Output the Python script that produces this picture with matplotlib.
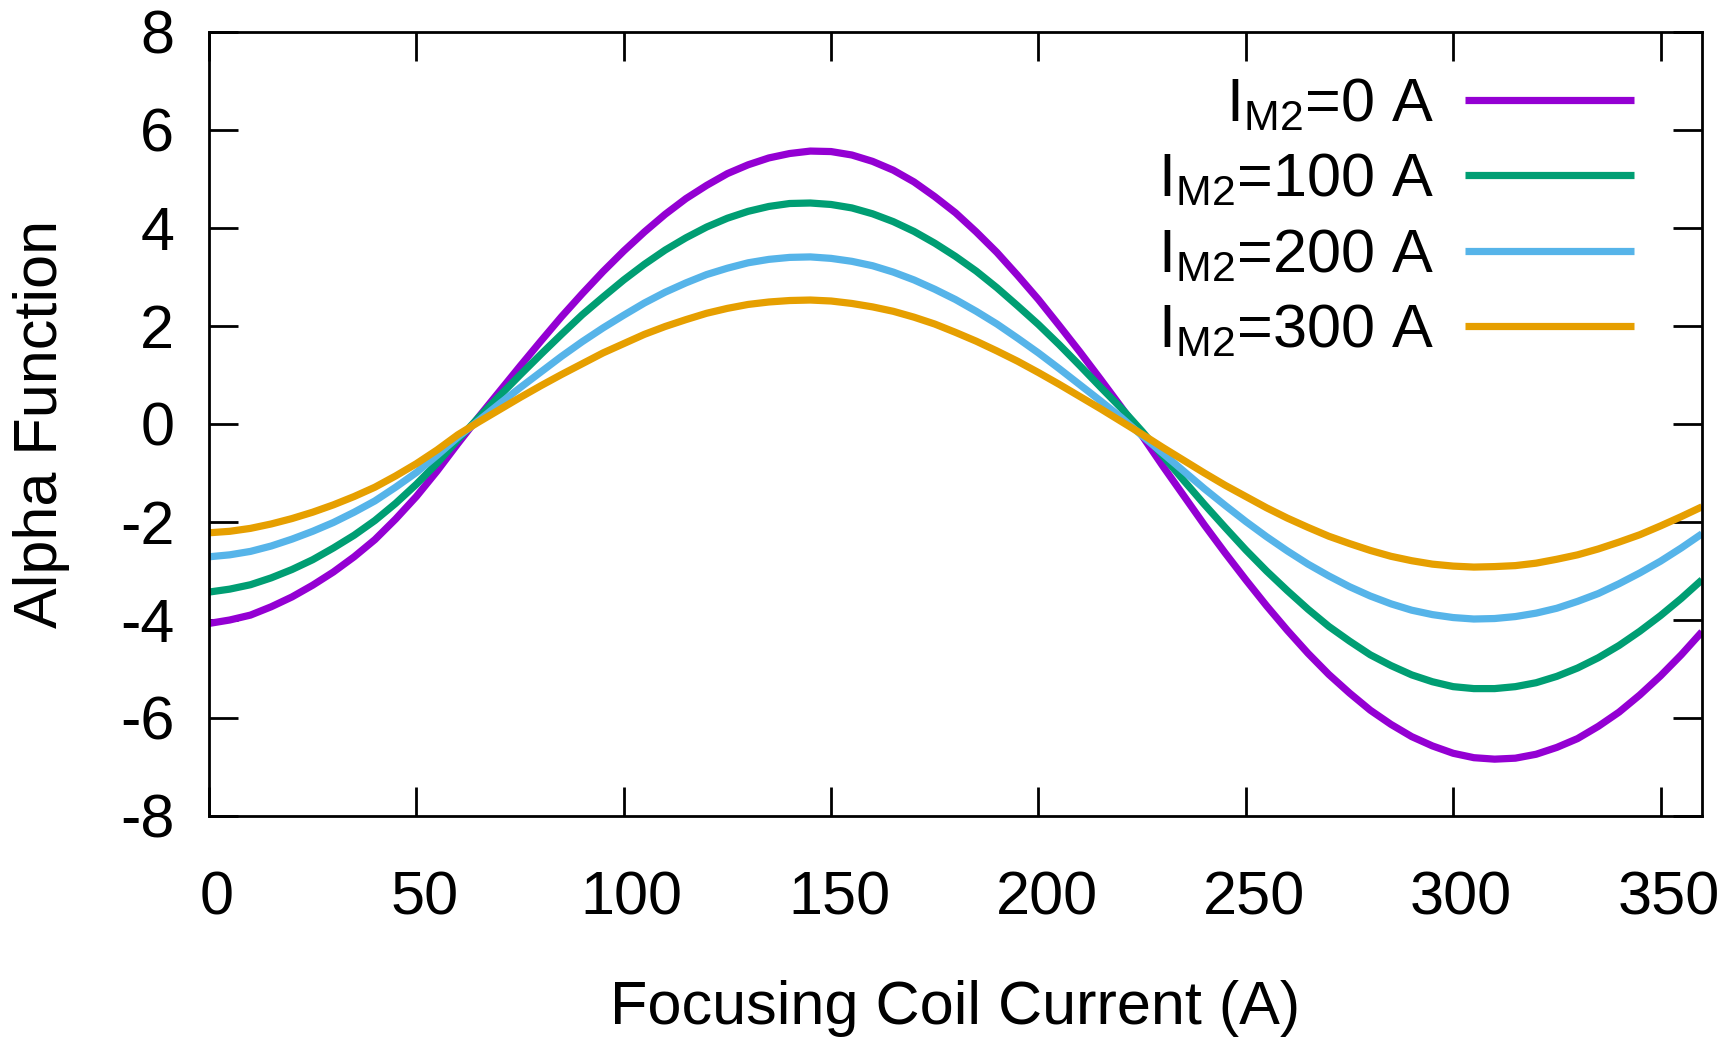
import matplotlib
matplotlib.use("Agg")
import matplotlib.pyplot as plt
from matplotlib.transforms import ScaledTranslation

plt.rcParams["font.family"] = ["Liberation Sans", "DejaVu Sans"]
plt.rcParams["mathtext.fontset"] = "custom"
plt.rcParams["mathtext.rm"] = "Liberation Sans"
plt.rcParams["mathtext.it"] = "Liberation Sans"
plt.rcParams["axes.unicode_minus"] = False

# Focusing coil current (A), 5 A steps
current = list(range(0, 365, 5))

# Alpha function for each second-magnet current
alpha_0 = [-4.07, -4.00, -3.90, -3.73, -3.53, -3.29, -3.02, -2.71, -2.36, -1.94,
           -1.48, -0.96, -0.40, 0.14, 0.66, 1.18, 1.69, 2.19, 2.66, 3.11,
           3.53, 3.92, 4.28, 4.60, 4.87, 5.11, 5.29, 5.43, 5.52, 5.57,
           5.56, 5.49, 5.36, 5.18, 4.94, 4.64, 4.31, 3.92, 3.50, 3.03,
           2.54, 2.01, 1.47, 0.91, 0.34, -0.24, -0.86, -1.46, -2.06, -2.63,
           -3.18, -3.71, -4.21, -4.68, -5.11, -5.49, -5.84, -6.13, -6.38, -6.57,
           -6.72, -6.81, -6.84, -6.82, -6.74, -6.60, -6.42, -6.17, -5.88, -5.53,
           -5.14, -4.71, -4.24]
alpha_100 = [-3.43, -3.37, -3.28, -3.14, -2.97, -2.77, -2.53, -2.27, -1.97, -1.62,
             -1.23, -0.80, -0.32, 0.13, 0.57, 1.00, 1.42, 1.83, 2.23, 2.59,
             2.94, 3.26, 3.55, 3.80, 4.02, 4.20, 4.34, 4.44, 4.50, 4.51,
             4.48, 4.41, 4.29, 4.13, 3.93, 3.69, 3.42, 3.12, 2.78, 2.41,
             2.03, 1.62, 1.19, 0.75, 0.32, -0.15, -0.65, -1.15, -1.64, -2.11,
             -2.57, -3.00, -3.40, -3.78, -4.13, -4.43, -4.71, -4.93, -5.12, -5.26,
             -5.36, -5.40, -5.40, -5.36, -5.28, -5.15, -4.98, -4.77, -4.52, -4.23,
             -3.91, -3.56, -3.18]
alpha_200 = [-2.71, -2.67, -2.60, -2.49, -2.35, -2.19, -2.01, -1.80, -1.57, -1.29,
             -0.99, -0.64, -0.27, 0.07, 0.41, 0.74, 1.06, 1.38, 1.68, 1.96,
             2.22, 2.47, 2.69, 2.88, 3.05, 3.18, 3.29, 3.36, 3.40, 3.41,
             3.38, 3.32, 3.23, 3.10, 2.94, 2.75, 2.54, 2.30, 2.04, 1.75,
             1.45, 1.13, 0.80, 0.47, 0.13, -0.24, -0.60, -0.96, -1.32, -1.66,
             -1.99, -2.30, -2.59, -2.86, -3.10, -3.32, -3.51, -3.67, -3.80, -3.89,
             -3.95, -3.98, -3.97, -3.93, -3.86, -3.76, -3.62, -3.46, -3.26, -3.04,
             -2.80, -2.53, -2.24]
alpha_300 = [-2.22, -2.19, -2.13, -2.04, -1.93, -1.80, -1.65, -1.48, -1.29, -1.06,
             -0.81, -0.53, -0.22, 0.04, 0.29, 0.54, 0.78, 1.01, 1.23, 1.45,
             1.64, 1.83, 1.99, 2.13, 2.26, 2.36, 2.44, 2.49, 2.52, 2.53,
             2.51, 2.46, 2.39, 2.30, 2.18, 2.04, 1.87, 1.69, 1.49, 1.28,
             1.05, 0.81, 0.56, 0.31, 0.05, -0.21, -0.48, -0.74, -1.00, -1.25,
             -1.48, -1.71, -1.92, -2.11, -2.29, -2.44, -2.58, -2.70, -2.79, -2.86,
             -2.90, -2.92, -2.91, -2.89, -2.84, -2.76, -2.67, -2.55, -2.41, -2.26,
             -2.08, -1.89, -1.69]

series = [alpha_0, alpha_100, alpha_200, alpha_300]
labels = [r"I$_{\mathregular{M2}}$=0 A", r"I$_{\mathregular{M2}}$=100 A",
          r"I$_{\mathregular{M2}}$=200 A", r"I$_{\mathregular{M2}}$=300 A"]
colors = ["#9400D3", "#009E73", "#56B4E9", "#E69F00"]

x_ticks = [0, 50, 100, 150, 200, 250, 300, 350]
y_ticks = [-8, -6, -4, -2, 0, 2, 4, 6, 8]

W, H = 1723, 1041
fig = plt.figure(figsize=(W / 100, H / 100), dpi=100)
ax = fig.add_axes([209 / W, 1 - 816 / H, 1493 / W, 784 / H])

for ys, lab, col in zip(series, labels, colors):
    ax.plot(current, ys, color=col, lw=5.2, label=lab,
            solid_capstyle="butt", solid_joinstyle="round")

ax.set_xlim(0, 360)
ax.set_ylim(-8, 8)
ax.set_xticks(x_ticks)
ax.set_yticks(y_ticks)
ax.set_xticklabels([str(v) for v in x_ticks])
ax.set_yticklabels([str(v) for v in y_ticks])

fs = 44
ax.tick_params(axis="both", which="major", direction="in", length=21,
               width=2.0, labelsize=fs, top=True, right=True, color="black")
ax.tick_params(axis="x", pad=39)
ax.tick_params(axis="y", pad=25)
shift = ScaledTranslation(8 / 100, 0, fig.dpi_scale_trans)
for lbl in ax.get_xticklabels():
    lbl.set_transform(lbl.get_transform() + shift)
for sp in ax.spines.values():
    sp.set_linewidth(2.0)
    sp.set_zorder(5)

ax.set_xlabel("Focusing Coil Current (A)", fontsize=fs)
ax.xaxis.set_label_coords(0.5, -0.209)
ax.set_ylabel("Alpha Function", fontsize=fs)
ax.yaxis.set_label_coords(-0.093, 0.5)

leg = ax.legend(loc="upper right", bbox_to_anchor=((1634 - 209) / 1493, 0.942),
                frameon=False, markerfirst=False, fontsize=44,
                handlelength=2.76, handletextpad=0.52, labelspacing=0.30,
                borderpad=0, borderaxespad=0)

fig.savefig("out.png", dpi=100, facecolor="white")
